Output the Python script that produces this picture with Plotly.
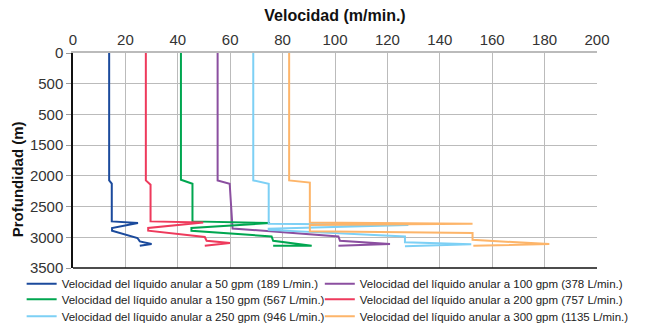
import plotly.graph_objects as go

# ---- data (velocity m/min, depth m) ----
names = [
    "Velocidad del líquido anular a 50 gpm (189 L/min.)",
    "Velocidad del líquido anular a 100 gpm (378 L/min.)",
    "Velocidad del líquido anular a 150 gpm (567 L/min.)",
    "Velocidad del líquido anular a 200 gpm (757 L/min.)",
    "Velocidad del líquido anular a 250 gpm (946 L/min.)",
    "Velocidad del líquido anular a 300 gpm (1135 L/min.)",
]
colors = ["#1B4A9C", "#8B4FA0", "#00A650", "#EE3A5C", "#7DD0F5", "#FDB56A"]

depth_50 = [0, 2074, 2128, 2741, 2768, 2849, 2893, 3012, 3067, 3110, 3137]
vel_50 = [13.8, 13.8, 14.8, 14.8, 24.8, 14.9, 14.9, 24.6, 25.5, 30.0, 25.5]

depth_100 = [0, 2074, 2128, 2857, 2986, 3056, 3110, 3137]
vel_100 = [55.2, 55.2, 59.8, 60.9, 101.3, 101.9, 121.0, 101.3]

depth_150 = [0, 2063, 2128, 2741, 2768, 2849, 2893, 2986, 3056, 3137, 3137]
vel_150 = [41.2, 41.2, 45.6, 45.6, 75.2, 45.2, 45.2, 75.8, 76.4, 91.1, 76.4]

depth_200 = [0, 2074, 2144, 2741, 2758, 2849, 2893, 2996, 3056, 3093, 3137]
vel_200 = [27.8, 27.8, 29.6, 29.6, 49.7, 28.7, 28.7, 50.3, 51.0, 59.9, 50.3]

depth_250 = [0, 2074, 2128, 2780, 2800, 2860, 2880, 2986, 3080, 3115, 3145]
vel_250 = [68.8, 68.8, 74.7, 74.7, 128.0, 74.7, 74.7, 126.7, 126.7, 152.0, 126.7]

depth_300 = [0, 2074, 2110, 2760, 2780, 2800, 2900, 2930, 3042, 3110, 3137]
vel_300 = [82.5, 82.5, 90.4, 90.4, 152.5, 90.4, 90.4, 152.5, 152.5, 181.8, 152.8]

x_ticks = [0, 20, 40, 60, 80, 100, 120, 140, 160, 180, 200]
y_tickvals = [0, 500, 1000, 1500, 2000, 2500, 3000, 3500]
y_ticktext = ["0", "500", "500", "1500", "2000", "2500", "3000", "3500"]

series = [
    (vel_50, depth_50),
    (vel_100, depth_100),
    (vel_150, depth_150),
    (vel_200, depth_200),
    (vel_250, depth_250),
    (vel_300, depth_300),
]
legend_ids = ["legend", "legend2", "legend3", "legend4", "legend5", "legend6"]
# legend grid: two columns, three rows (paper coords)
legend_x = [-0.098, 0.471, -0.098, 0.471, -0.098, 0.471]
legend_y = [-0.073, -0.073, -0.145, -0.145, -0.224, -0.224]

NARROW = "Liberation Sans Narrow, Arial Narrow, Liberation Sans, sans-serif"
REG = "Liberation Sans, Arial, sans-serif"

fig = go.Figure()
for (v, d), n, c, lg in zip(series, names, colors, legend_ids):
    fig.add_trace(go.Scatter(x=v, y=d, mode="lines", name=n, legend=lg,
                             line=dict(color=c, width=2)))

legends = {}
for lg, lx, ly in zip(legend_ids, legend_x, legend_y):
    legends[lg] = dict(orientation="h", x=lx, y=ly, xanchor="left", yanchor="middle",
                       itemwidth=30,
                       font=dict(family=REG, size=11.5, color="#222222"),
                       bgcolor="rgba(0,0,0,0)")

fig.update_layout(
    width=648, height=323,
    margin=dict(l=73, r=51, t=53, b=55, autoexpand=False),
    paper_bgcolor="white", plot_bgcolor="white",
    font=dict(family=REG, size=15, color="#333333"),
    showlegend=True,
    xaxis=dict(side="top", range=[0, 200], tickvals=x_ticks,
               showgrid=True, gridcolor="#BBBBBB", gridwidth=1.3,
               showline=True, linecolor="#BBBBBB", linewidth=1.5,
               zeroline=False, ticks="", ticklen=0,
               tickfont=dict(family=REG, size=15, color="#333333"),
               title=dict(text="<b>Velocidad (m/min.)</b>",
                          font=dict(family=NARROW, size=16, color="#111111"), standoff=6)),
    yaxis=dict(range=[3500, 0], tickvals=y_tickvals, ticktext=y_ticktext,
               showgrid=True, gridcolor="#BBBBBB", gridwidth=1.3,
               showline=True, linecolor="#111111", linewidth=1.5,
               zeroline=False, ticks="outside", ticklen=5, tickcolor="#999999",
               tickfont=dict(family=REG, size=15, color="#333333")),
    **legends,
)
fig.add_annotation(text="<b>Profundidad (m)</b>", textangle=-90, showarrow=False,
                   xref="paper", yref="paper", x=-0.1057, y=0.411,
                   xanchor="center", yanchor="middle",
                   font=dict(family=NARROW, size=15, color="#111111"))
fig.add_shape(type="line", xref="paper", yref="paper", x0=0, x1=1, y0=0, y1=0,
              line=dict(color="#111111", width=1.5))

fig.write_html("out.html")
